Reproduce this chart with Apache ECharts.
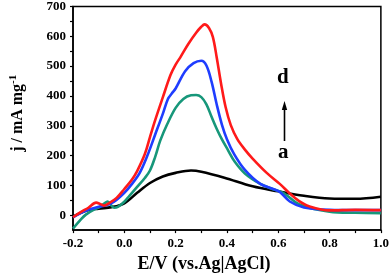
<!DOCTYPE html>
<html>
<head>
<meta charset="utf-8">
<script src="https://cdn.jsdelivr.net/npm/echarts@6/dist/echarts.min.js"></script>
<style>html,body{margin:0;padding:0;background:#fff;}#c{width:392px;height:278px;}</style>
</head>
<body>
<div id="c"></div>
<script>
// Curve a (black)
const aX = [-0.2, -0.15, -0.1, -0.05, 0.0, 0.05, 0.1, 0.15, 0.2, 0.26, 0.3, 0.39, 0.5, 0.6, 0.7, 0.8, 0.9, 1.0];
const aY = [-5, 15, 22, 27, 40, 75, 108, 130, 142, 150, 146, 126, 97, 80, 65, 56, 55, 62];
// Curve b (green)
const bX = [-0.2, -0.17, -0.15, -0.12, -0.1, -0.08, -0.065, -0.05, -0.04, -0.025, 0.0, 0.02, 0.05, 0.08, 0.1, 0.12, 0.14, 0.167, 0.2, 0.23, 0.26, 0.28, 0.3, 0.32, 0.34, 0.36, 0.38, 0.403, 0.43, 0.47, 0.53, 0.58, 0.619, 0.683, 0.8, 0.9, 1.0];
const bY = [-45, -15, 2, 18, 25, 38, 46, 32, 25, 28, 45, 65, 95, 125, 150, 195, 250, 305, 360, 390, 402, 403, 396, 372, 330, 290, 255, 220, 180, 140, 105, 87, 75, 36, 12, 8, 7];
// Curve c (blue)
const cX = [-0.2, -0.15, -0.1, -0.07, -0.04, 0.0, 0.03, 0.06, 0.09, 0.12, 0.15, 0.17, 0.185, 0.2, 0.237, 0.27, 0.3, 0.32, 0.34, 0.36, 0.38, 0.4, 0.428, 0.47, 0.53, 0.58, 0.606, 0.645, 0.7, 0.8, 0.9, 1.0];
const cY = [-7, 15, 28, 33, 45, 75, 105, 142, 200, 270, 340, 390, 408, 425, 483, 510, 518, 502, 448, 372, 305, 255, 205, 152, 105, 88, 78, 46, 26, 18, 17, 17];
// Curve d (red)
const dX = [-0.2, -0.17, -0.14, -0.11, -0.095, -0.08, -0.06, -0.03, 0.0, 0.03, 0.05, 0.08, 0.1, 0.12, 0.15, 0.18, 0.2, 0.22, 0.25, 0.28, 0.3, 0.313, 0.33, 0.345, 0.36, 0.377, 0.395, 0.415, 0.44, 0.47, 0.5, 0.555, 0.606, 0.645, 0.68, 0.72, 0.8, 0.9, 1.0];
const dY = [-7, 10, 25, 42, 38, 32, 40, 58, 88, 120, 148, 205, 262, 318, 395, 470, 505, 532, 575, 612, 632, 640, 628, 598, 530, 442, 362, 302, 256, 220, 190, 142, 105, 73, 48, 30, 16, 18, 17];
// Axis ticks
const xTicks = [-0.2, 0.0, 0.2, 0.4, 0.6, 0.8, 1.0];
const yTicks = [0, 100, 200, 300, 400, 500, 600, 700];

const FONT = "'Liberation Serif','Times New Roman',serif";
function pairs(xs, ys) { return xs.map((x, i) => [x, ys[i]]); }
function mk(name, xs, ys, color) {
  return { name: name, type: 'line', data: pairs(xs, ys), smooth: 0.35, symbol: 'none',
    lineStyle: { color: color, width: 2.6 }, z: 3 };
}

const chart = echarts.init(document.getElementById('c'), null, { renderer: 'canvas' });
chart.setOption({
  animation: false,
  backgroundColor: '#fff',
  grid: { left: 69, right: 9, top: 6, bottom: 38, show: true, borderColor: '#000', borderWidth: 1.5, backgroundColor: 'transparent' },
  xAxis: {
    type: 'value', min: xTicks[0], max: xTicks[xTicks.length - 1], interval: 0.2,
    name: 'E/V (vs.Ag|AgCl)', nameLocation: 'middle', nameGap: 17,
    nameTextStyle: { fontFamily: FONT, fontWeight: 'bold', fontSize: 18, color: '#000', padding: [0, 46, 0, 0] },
    axisLine: { show: true, onZero: false, lineStyle: { color: '#000', width: 1.5 } },
    axisTick: { show: true, inside: false, length: 3, lineStyle: { color: '#000', width: 1.2 } },
    minorTick: { show: true, splitNumber: 2, length: 3, lineStyle: { color: '#000', width: 1.2 } },
    splitLine: { show: false },
    axisLabel: { fontFamily: FONT, fontWeight: 'bold', fontSize: 13, color: '#000', margin: 7,
      formatter: v => v.toFixed(1) }
  },
  yAxis: {
    type: 'value', min: -50, max: 700, interval: 50,
    name: '{a|j / mA mg}{s|-1}', nameLocation: 'middle', nameGap: 46, nameRotate: 90,
    nameTextStyle: { fontFamily: FONT, fontWeight: 'bold', color: '#000', padding: [0, 0, 0, 10],
      rich: { a: { fontFamily: FONT, fontWeight: 'bold', fontSize: 16, color: '#000' },
              s: { fontFamily: FONT, fontWeight: 'bold', fontSize: 11, color: '#000', verticalAlign: 'top', padding: [0, 0, 8, 0] } } },
    axisLine: { show: true, onZero: false, lineStyle: { color: '#000', width: 1.5 } },
    axisTick: { show: true, inside: false, length: 3, lineStyle: { color: '#000', width: 1.2 } },
    splitLine: { show: false },
    axisLabel: { fontFamily: FONT, fontWeight: 'bold', fontSize: 13, color: '#000', margin: 7,
      showMinLabel: false,
      formatter: v => (yTicks.indexOf(v) >= 0 ? String(v) : '') }
  },
  series: [
    mk('a', aX, aY, '#000000'),
    mk('b', bX, bY, '#17977a'),
    mk('c', cX, cY, '#1f3dff'),
    mk('d', dX, dY, '#ff1a1a')
  ],
  graphic: [
    { type: 'text', left: 277, top: 67, style: { text: 'd', font: "bold 21px 'Liberation Serif', serif", fill: '#000' } },
    { type: 'text', left: 278, top: 142, style: { text: 'a', font: "bold 21px 'Liberation Serif', serif", fill: '#000' } },
    { type: 'line', shape: { x1: 284.5, y1: 141, x2: 284.5, y2: 108 }, style: { stroke: '#000', lineWidth: 1.6 } },
    { type: 'polygon', shape: { points: [[284.5, 101], [281.8, 110], [287.2, 110]] }, style: { fill: '#000' } }
  ]
});
</script>
</body>
</html>
